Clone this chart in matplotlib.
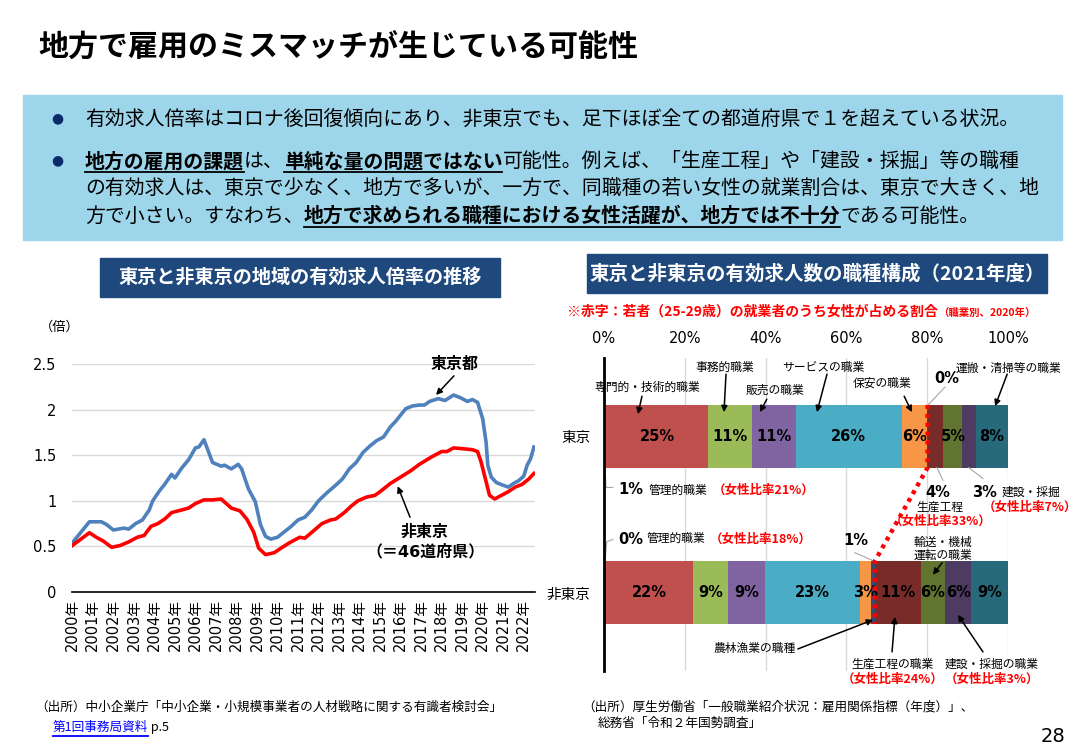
import matplotlib
matplotlib.use('Agg')
import numpy as np
import matplotlib.pyplot as plt
from matplotlib.patches import Rectangle
from matplotlib.lines import Line2D

plt.rcParams['font.family'] = ['DejaVu Sans', 'Noto Sans CJK JP']
JP = ['Noto Sans CJK JP', 'DejaVu Sans']

# ---- data: job-offer ratio (倍) ----
tokyo_dates = ['2000-01', '2000-11', '2001-06', '2001-09', '2002-01', '2002-07', '2002-10',
               '2003-02', '2003-06', '2003-10', '2003-12', '2004-04', '2004-07', '2004-11',
               '2005-01', '2005-05', '2005-09', '2006-01', '2006-03', '2006-06', '2006-11',
               '2007-04', '2007-06', '2007-10', '2008-02', '2008-04', '2008-08', '2008-12',
               '2009-03', '2009-06', '2009-09', '2010-01', '2010-05', '2010-09', '2011-01',
               '2011-05', '2011-09', '2012-01', '2012-06', '2012-11', '2013-03', '2013-07',
               '2013-11', '2014-03', '2014-07', '2014-11', '2015-03', '2015-07', '2015-10',
               '2016-01', '2016-04', '2016-08', '2016-12', '2017-03', '2017-06', '2017-11',
               '2018-03', '2018-08', '2018-12', '2019-04', '2019-07', '2019-10', '2020-01',
               '2020-03', '2020-04', '2020-06', '2020-09', '2021-01', '2021-04', '2021-07',
               '2021-10', '2022-01', '2022-03', '2022-05', '2022-07']
tokyo_vals = [0.54, 0.77, 0.77, 0.74, 0.68, 0.70, 0.69,
              0.75, 0.79, 0.90, 1.00, 1.11, 1.18, 1.29,
              1.25, 1.36, 1.45, 1.58, 1.59, 1.67, 1.42,
              1.38, 1.39, 1.35, 1.40, 1.35, 1.13, 0.99,
              0.74, 0.61, 0.58, 0.60, 0.66, 0.72, 0.79,
              0.82, 0.90, 1.00, 1.09, 1.17, 1.24, 1.35,
              1.42, 1.53, 1.60, 1.66, 1.70, 1.81, 1.87,
              1.94, 2.01, 2.04, 2.05, 2.05, 2.09, 2.12,
              2.10, 2.16, 2.13, 2.09, 2.11, 2.08, 1.90,
              1.64, 1.39, 1.26, 1.20, 1.17, 1.15, 1.19,
              1.22, 1.27, 1.39, 1.46, 1.59]

other_dates = ['2000-01', '2000-11', '2001-03', '2001-07', '2001-12', '2002-05', '2002-10',
               '2003-03', '2003-07', '2003-11', '2004-03', '2004-07', '2004-11', '2005-03',
               '2005-09', '2006-01', '2006-06', '2006-11', '2007-04', '2007-10', '2008-03',
               '2008-07', '2008-11', '2009-02', '2009-06', '2009-11', '2010-03', '2010-08',
               '2011-02', '2011-05', '2011-10', '2012-03', '2012-08', '2012-11', '2013-04',
               '2013-08', '2013-12', '2014-05', '2014-10', '2015-01', '2015-07', '2016-01',
               '2016-07', '2016-12', '2017-07', '2018-01', '2018-04', '2018-08', '2019-02',
               '2019-07', '2019-10', '2019-12', '2020-03', '2020-05', '2020-08', '2020-12',
               '2021-04', '2021-08', '2021-12', '2022-04', '2022-07']
other_vals = [0.51, 0.65, 0.60, 0.56, 0.49, 0.51, 0.55,
              0.60, 0.62, 0.72, 0.75, 0.80, 0.87, 0.89,
              0.92, 0.97, 1.01, 1.01, 1.02, 0.92, 0.89,
              0.80, 0.66, 0.48, 0.41, 0.43, 0.48, 0.54,
              0.60, 0.59, 0.67, 0.75, 0.79, 0.80, 0.87,
              0.94, 1.00, 1.04, 1.06, 1.10, 1.19, 1.26,
              1.33, 1.40, 1.48, 1.54, 1.54, 1.58, 1.57,
              1.56, 1.54, 1.43, 1.21, 1.06, 1.02, 1.06,
              1.10, 1.15, 1.18, 1.24, 1.30]

tick_years = list(range(2000, 2023))

# ---- data: composition of job offers by occupation (%), FY2021 ----
regions = ['東京', '非東京']
occupations = ['管理的職業', '専門的・技術的職業', '事務的職業', '販売の職業', 'サービスの職業',
               '保安の職業', '農林漁業の職種', '生産工程の職業', '輸送・機械運転の職業',
               '建設・採掘の職業', '運搬・清掃等の職業']
share_tokyo = [0.6, 25.1, 10.9, 10.9, 26.2, 6.2, 0.2, 3.9, 4.7, 3.4, 7.9]
share_other = [0.3, 21.8, 8.7, 9.1, 23.4, 2.7, 1.0, 11.4, 6.1, 6.3, 9.2]
occ_colors = ['#4F81BD', '#C0504D', '#9BBB59', '#8064A2', '#4BACC6', '#F79646',
              '#2C4D75', '#772C2A', '#5F7530', '#4D3B62', '#276A7C']
# share of women among young (25-29) workers, 2020
female_tokyo = {'管理': 21, '生産': 33, '建設': 7}
female_other = {'管理': 18, '生産': 24, '建設': 3}

W, H = 1084, 750
fig = plt.figure(figsize=(W / 100, H / 100), dpi=100)
renderer = fig.canvas.get_renderer()


def fx(x):
    return x / W


def fy(y):
    return 1 - y / H


def put_runs(x, y, parts, family=JP):
    # parts: (text, size, bold, underline, color); y is baseline in px
    for s, size, bold, ul, c in parts:
        t = fig.text(fx(x), fy(y), s, fontsize=size, family=family, color=c,
                     fontweight='bold' if bold else 'normal', ha='left', va='baseline')
        w = t.get_window_extent(renderer).width
        if ul:
            fig.add_artist(Line2D([fx(x), fx(x + w)], [fy(y + 5)] * 2, color=c, lw=1.3))
        x += w


# title
fig.text(fx(38), fy(47), '地方で雇用のミスマッチが生じている可能性', fontsize=21.6,
         fontweight='bold', family=JP, va='center', ha='left')

# summary box
fig.add_artist(Rectangle((fx(23), fy(240)), (1062 - 23) / W, (240 - 95) / H,
                         transform=fig.transFigure, color='#9DD6EB', zorder=0))
for by in [118, 160]:
    fig.text(fx(57), fy(by), '●', fontsize=10, color='#0B2A6B', ha='center', va='center')
K = 'black'
FS = 14.3
put_runs(85, 125, [('有効求人倍率はコロナ後回復傾向にあり、非東京でも、足下ほぼ全ての都道府県で１を超えている状況。',
                    FS, False, False, K)])
put_runs(85, 167, [('地方の雇用の課題', FS, True, True, K), ('は、', FS, False, False, K),
                   ('単純な量の問題ではない', FS, True, True, K),
                   ('可能性。例えば、「生産工程」や「建設・採掘」等の職種', FS, False, False, K)])
put_runs(85, 195, [('の有効求人は、東京で少なく、地方で多いが、一方で、同職種の若い女性の就業割合は、東京で大きく、地',
                    FS, False, False, K)])
put_runs(85, 222, [('方で小さい。すなわち、', FS, False, False, K),
                   ('地方で求められる職種における女性活躍が、地方では不十分', FS, True, True, K),
                   ('である可能性。', FS, False, False, K)])

# section headers
for (x0, y0, x1, y1, s, fs) in [(100, 258, 500, 297, '東京と非東京の地域の有効求人倍率の推移', 13.8),
                                (587, 254, 1047, 293, '東京と非東京の有効求人数の職種構成（2021年度）', 14)]:
    fig.add_artist(Rectangle((fx(x0), fy(y1)), (x1 - x0) / W, (y1 - y0) / H,
                             transform=fig.transFigure, color='#1F497D', zorder=0))
    fig.text(fx((x0 + x1) / 2), fy((y0 + y1) / 2), s, color='white', fontsize=fs,
             fontweight='bold', family=JP, ha='center', va='center')

# ---- left chart ----
def month_index(d):
    y, m = d.split('-')
    return (int(y) - 2000) * 12 + int(m) - 1


ax1 = fig.add_axes([fx(72), fy(592), (535 - 72) / W, (592 - 364) / H])
ax1.plot([month_index(d) for d in tokyo_dates], tokyo_vals, color='#4F81BD', lw=2.6,
         solid_joinstyle='round')
ax1.plot([month_index(d) for d in other_dates], other_vals, color='#FF0000', lw=2.6,
         solid_joinstyle='round')
ax1.set_xlim(-0.2, 270.6)
ax1.set_ylim(0, 2.5)
ax1.set_yticks([0, 0.5, 1, 1.5, 2, 2.5])
ax1.set_yticklabels(['0', '0.5', '1', '1.5', '2', '2.5'])
ax1.set_xticks([(y - 2000) * 12 for y in tick_years])
ax1.set_xticklabels([f'{y}年' for y in tick_years], rotation=90)
ax1.tick_params(axis='y', length=0, pad=11, labelsize=10.5)
ax1.tick_params(axis='x', length=0, pad=5, labelsize=10.5)
ax1.grid(axis='y', color='#D9D9D9', lw=1)
ax1.set_axisbelow(True)
for s in ['top', 'right', 'left']:
    ax1.spines[s].set_visible(False)
ax1.spines['bottom'].set_linewidth(1.2)
fig.text(fx(60), fy(327), '（倍）', fontsize=9.5, family=JP, ha='center', va='center')

arr = dict(arrowstyle='-|>', color='black', lw=1.1, mutation_scale=9, shrinkA=0, shrinkB=0)
ax1.annotate('', xy=(212.7, 2.16), xytext=(223.2, 2.37), arrowprops=arr)
ax1.text(223.8, 2.5, '東京都', fontsize=11.5, fontweight='bold', family=JP, ha='center', va='center')
ax1.annotate('', xy=(190.3, 1.16), xytext=(197.5, 0.82), arrowprops=arr)
ax1.text(206.3, 0.55, '非東京\n（＝46道府県）', fontsize=11.5, fontweight='bold',
         ha='center', va='center', linespacing=1.35)

# ---- right chart ----
ax2 = fig.add_axes([fx(604), fy(671), (1008 - 604) / W, (671 - 358) / H])
shares = [share_tokyo, share_other]
bar_h = 0.4
bounds = []
for row, vals in enumerate(shares):
    lefts = np.concatenate([[0], np.cumsum(vals)[:-1]])
    bounds.append(lefts)
    ax2.barh(row, vals, left=lefts, height=bar_h, color=occ_colors, zorder=2)

inside = [[1, 2, 3, 4, 5, 8, 10], [1, 2, 3, 4, 5, 7, 8, 9, 10]]
for row, vals in enumerate(shares):
    for i in inside[row]:
        ax2.text(bounds[row][i] + vals[i] / 2, row, f'{vals[i]:.0f}%', fontsize=10.5,
                 fontweight='bold', ha='center', va='center', zorder=4)

# red dotted divider (boundary after 農林漁業)
c_t = bounds[0][7]
c_n = bounds[1][7]
ax2.plot([c_t, c_t, c_n, c_n], [-bar_h / 2, bar_h / 2, 1 - bar_h / 2, 1 + bar_h / 2],
         color='#FF0000', lw=3.2, linestyle=(0, (0.9, 1.1)), zorder=5, clip_on=False)

ax2.set_xlim(0, 100)
ax2.set_ylim(1.5, -0.5)
ax2.xaxis.tick_top()
ax2.set_xticks([0, 20, 40, 60, 80, 100])
ax2.set_xticklabels([f'{v}%' for v in [0, 20, 40, 60, 80, 100]])
ax2.set_yticks([0, 1])
ax2.set_yticklabels(regions)
ax2.tick_params(axis='x', length=0, pad=9, labelsize=10.5)
ax2.tick_params(axis='y', length=0, pad=10, labelsize=10.5)
ax2.grid(axis='x', color='#D9D9D9', lw=1, zorder=0)
ax2.set_axisbelow(True)
for s in ['top', 'right', 'bottom']:
    ax2.spines[s].set_visible(False)
ax2.spines['left'].set_linewidth(2)
ax2.spines['left'].set_zorder(6)

lab = dict(fontsize=8.5, family=JP, ha='center', va='center')
red = dict(fontsize=9, family=JP, fontweight='bold', color='#FF0000', va='center')
pct = dict(fontsize=10.5, fontweight='bold', va='center')
GRAY = '#A6A6A6'

# Tokyo labels above the bar
for i, tx, ty, ax_, ay_, hx, hy in [(1, 10.6, -0.314, 9.4, -0.256, 8.4, -0.141),
                                      (2, 30.0, -0.442, 30.2, -0.397, 29.7, -0.154),
                                      (3, 42.3, -0.295, 40.3, -0.237, 38.6, -0.154),
                                      (4, 54.2, -0.442, 55.2, -0.397, 52.7, -0.154),
                                      (5, 68.8, -0.340, 74.3, -0.256, 76.2, -0.154),
                                      (10, 100.0, -0.436, 99.8, -0.397, 96.8, -0.192)]:
    ax2.text(tx, ty, occupations[i], clip_on=False, **lab)
    ax2.annotate('', xy=(hx, hy), xytext=(ax_, ay_), arrowprops=arr, annotation_clip=False)

# Tokyo small segments
ax2.plot([0.25, 0.5, 2.2], [0.2, 0.327, 0.327], color=GRAY, lw=0.8, clip_on=False)
ax2.text(3.5, 0.34, f'{share_tokyo[0]:.0f}%', ha='left', **pct)
ax2.text(10.9, 0.346, occupations[0], fontsize=8.5, family=JP, ha='left', va='center')
ax2.text(27.0, 0.346, f'（女性比率{female_tokyo["管理"]}%）', ha='left', **red)

ax2.plot([80.2, 84.4], [-0.2, -0.314], color=GRAY, lw=0.8, clip_on=False)
ax2.text(84.9, -0.372, f'{share_tokyo[6]:.0f}%', ha='center', **pct)

ax2.plot([82.4, 83.9], [0.2, 0.282], color=GRAY, lw=0.8, clip_on=False)
ax2.text(82.7, 0.359, f'{share_tokyo[7]:.0f}%', ha='center', **pct)
ax2.text(83.2, 0.455, '生産工程', clip_on=False, **lab)
ax2.text(83.2, 0.545, f'（女性比率{female_tokyo["生産"]}%）', ha='center', **red)

ax2.plot([90.3, 93.8], [0.2, 0.27], color=GRAY, lw=0.8, clip_on=False)
ax2.text(91.1, 0.359, f'{share_tokyo[9]:.0f}%', ha='left', **pct)
ax2.text(98.5, 0.359, '建設・採掘', fontsize=8.5, family=JP, ha='left', va='center', clip_on=False)
ax2.text(105.5, 0.455, f'（女性比率{female_tokyo["建設"]}%）', ha='center', clip_on=False, **red)

# non-Tokyo small segments
ax2.plot([0.25, 0.7, 2.2], [0.8, 0.673, 0.66], color=GRAY, lw=0.8, clip_on=False)
ax2.text(3.5, 0.66, f'{share_other[0]:.0f}%', ha='left', **pct)
ax2.text(10.6, 0.655, occupations[0], fontsize=8.5, family=JP, ha='left', va='center')
ax2.text(26.2, 0.655, f'（女性比率{female_other["管理"]}%）', ha='left', **red)

ax2.plot([62.1, 66.6], [0.744, 0.795], color=GRAY, lw=0.8, clip_on=False)
ax2.text(62.4, 0.667, f'{share_other[6]:.0f}%', ha='center', **pct)

ax2.text(83.9, 0.72, '輸送・機械\n運転の職業', linespacing=1.0, clip_on=False, **lab)
ax2.annotate('', xy=(81.4, 0.885), xytext=(83.7, 0.808), arrowprops=arr, annotation_clip=False)

ax2.text(37.4, 1.359, occupations[6], clip_on=False, **lab)
ax2.annotate('', xy=(66.6, 1.173), xytext=(48.0, 1.359), arrowprops=arr, annotation_clip=False)

ax2.text(71.5, 1.455, occupations[7], clip_on=False, **lab)
ax2.text(71.5, 1.551, f'（女性比率{female_other["生産"]}%）', ha='center', clip_on=False, **red)
ax2.annotate('', xy=(72.0, 1.154), xytext=(71.3, 1.378), arrowprops=arr, annotation_clip=False)

ax2.text(96.0, 1.455, occupations[9], clip_on=False, **lab)
ax2.text(96.0, 1.551, f'（女性比率{female_other["建設"]}%）', ha='center', clip_on=False, **red)
ax2.annotate('', xy=(87.6, 1.141), xytext=(93.8, 1.378), arrowprops=arr, annotation_clip=False)

# red note
R = '#FF0000'
put_runs(567, 316, [('※赤字：若者（25-29歳）の就業者のうち女性が占める割合', 10, True, False, R),
                    ('（職業別、2020年）', 7.5, True, False, R)])

# sources
fig.text(fx(35), fy(707), '（出所）中小企業庁「中小企業・小規模事業者の人材戦略に関する有識者検討会」',
         fontsize=9.1, family=JP, va='center', ha='left')
put_runs(53, 731, [('第1回事務局資料', 9.1, False, True, '#0000FF'), (' p.5', 9.1, False, False, K)])
fig.text(fx(582), fy(707), '（出所）厚生労働省「一般職業紹介状況：雇用関係指標（年度）」、',
         fontsize=9.1, family=JP, va='center', ha='left')
fig.text(fx(598), fy(723), '総務省「令和２年国勢調査」', fontsize=9.1, family=JP, va='center', ha='left')
fig.text(fx(1053), fy(736), '28', fontsize=14, va='center', ha='center')

fig.savefig('out.png', dpi=100)
